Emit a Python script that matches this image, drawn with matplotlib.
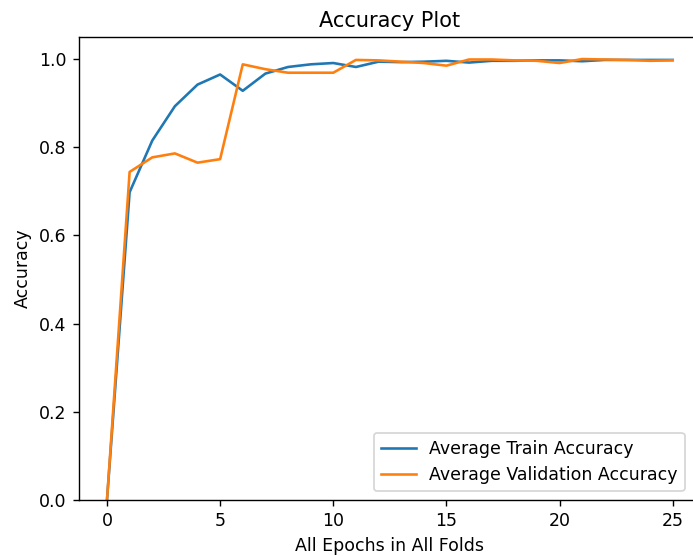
import numpy as np
import matplotlib
matplotlib.use("Agg")
import matplotlib.pyplot as plt

# epochs across all folds
epochs = np.arange(26)

train_acc = [0.0, 0.698, 0.815, 0.893, 0.942, 0.965, 0.928, 0.967, 0.982, 0.988,
             0.991, 0.982, 0.994, 0.993, 0.994, 0.996, 0.992, 0.996, 0.996, 0.997,
             0.997, 0.995, 0.998, 0.998, 0.998, 0.998]
val_acc = [0.0, 0.744, 0.777, 0.786, 0.765, 0.773, 0.988, 0.977, 0.969, 0.969,
           0.969, 0.998, 0.997, 0.994, 0.991, 0.985, 0.999, 0.999, 0.997, 0.996,
           0.991, 1.0, 0.999, 0.998, 0.996, 0.997]

# the reference is a default matplotlib figure shown 1.25x larger, cropped on the right
W, H = 693, 556
DPI = 125
fig = plt.figure(figsize=(W / DPI, H / DPI), dpi=DPI)
ax = fig.add_axes([78.7 / W, (H - 500) / H, (701 - 78.7) / W, (500 - 37) / H])

ax.plot(epochs, train_acc, label='Average Train Accuracy')
ax.plot(epochs, val_acc, label='Average Validation Accuracy')
ax.set_ylim(0, 1.05)
ax.set_xlim(-1.25, 26.25)
ax.set_title('Accuracy Plot')
ax.set_xlabel('All Epochs in All Folds')
ax.set_ylabel('Accuracy')
ax.legend(loc='lower right', bbox_to_anchor=(0.988, 0))

fig.savefig('out.png', dpi=DPI)
